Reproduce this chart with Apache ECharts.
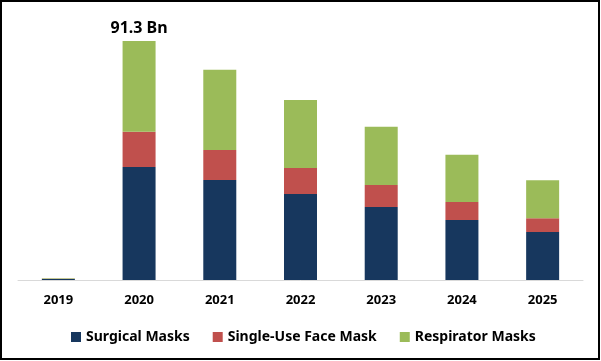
<!DOCTYPE html>
<html>
<head>
<meta charset="utf-8">
<script src="https://cdn.jsdelivr.net/npm/echarts@6/dist/echarts.min.js"></script>
<style>
html,body{margin:0;padding:0;background:#fff;}
#chart{width:601px;height:361px;}
</style>
</head>
<body>
<div id="chart"></div>
<script>
const categories = ['2019','2020','2021','2022','2023','2024','2025'];
const seriesNames = ['Surgical Masks','Single-Use Face Mask','Respirator Masks'];
const surgical = [0.35, 43.2, 38.2, 32.9, 27.9, 22.9, 18.3];
const singleUse = [0.1, 13.4, 11.5, 9.9, 8.4, 6.9, 5.3];
const respirator = [0.25, 34.7, 30.6, 26.0, 22.2, 18.0, 14.5];
const topLabel = '91.3 Bn';
const topLabelIndex = 1;

const colors = ['#17375E', '#C0504D', '#9BBB59'];
const font = 'Noto Sans';

const chart = echarts.init(document.getElementById('chart'), null, {renderer: 'canvas'});
const dataSets = [surgical, singleUse, respirator];

const series = dataSets.map((arr, i) => ({
  name: seriesNames[i],
  type: 'bar',
  stack: 'total',
  barWidth: 33,
  itemStyle: {color: colors[i]},
  data: arr.map((v, j) => {
    if (i === 2 && j === topLabelIndex) {
      return {
        value: v,
        label: {
          show: true, position: 'top', distance: 5,
          formatter: topLabel,
          fontFamily: font, fontWeight: 'bold', fontSize: 16, color: '#000'
        }
      };
    }
    return v;
  })
}));

chart.setOption({
  animation: false,
  color: colors,
  grid: {left: 18, right: 18, top: 41, bottom: 81, containLabel: false},
  xAxis: {
    type: 'category',
    data: categories,
    axisLine: {lineStyle: {color: '#D9D9D9', width: 1}},
    axisTick: {show: false},
    axisLabel: {fontFamily: font, fontWeight: 'bold', fontSize: 13, color: '#000', margin: 14}
  },
  yAxis: {
    type: 'value', min: 0, max: 91.3, show: false,
    splitLine: {show: false}
  },
  legend: {
    data: seriesNames,
    left: 66,
    top: 325,
    itemWidth: 10,
    itemHeight: 10,
    itemGap: 23,
    icon: 'rect',
    textStyle: {fontFamily: font, fontWeight: 'bold', fontSize: 14, color: '#000'}
  },
  graphic: [{
    type: 'rect',
    shape: {x: 1, y: 1, width: 598, height: 358},
    style: {fill: 'none', stroke: '#000', lineWidth: 2},
    silent: true
  }],
  series: series
});
</script>
</body>
</html>
